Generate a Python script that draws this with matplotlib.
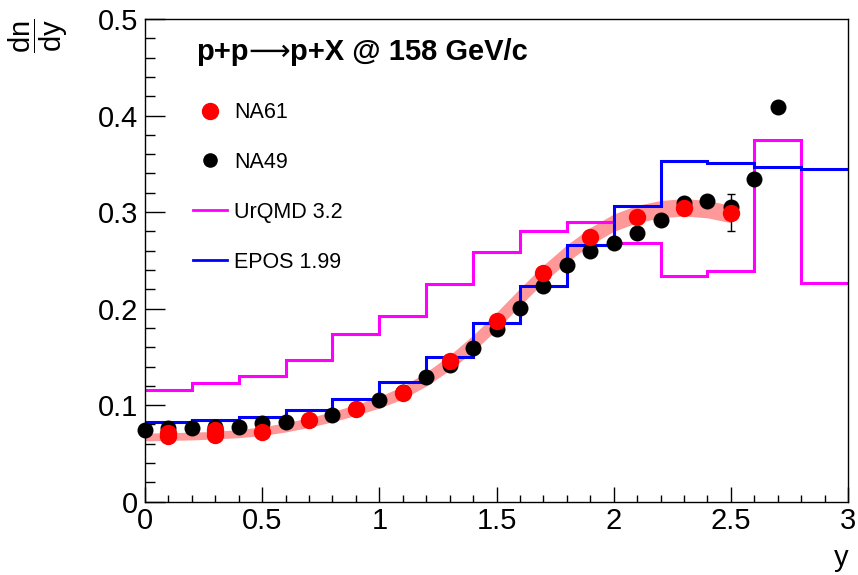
import numpy as np
import matplotlib
matplotlib.use("Agg")
import matplotlib.pyplot as plt
from matplotlib.ticker import MultipleLocator, FuncFormatter
from matplotlib.lines import Line2D
from matplotlib.offsetbox import TextArea, HPacker, AnchoredOffsetbox

plt.rcParams['font.family'] = ['Liberation Sans', 'DejaVu Sans']
plt.rcParams['mathtext.fontset'] = 'custom'
plt.rcParams['mathtext.rm'] = 'Liberation Sans'
plt.rcParams['mathtext.it'] = 'Liberation Sans'

# model histograms, bins of 0.2 in rapidity
bin_edges = np.linspace(0, 3, 16)
urqmd = [0.1157, 0.1233, 0.1305, 0.1465, 0.1740, 0.1925, 0.2250, 0.2590,
         0.2805, 0.2897, 0.2683, 0.2338, 0.2393, 0.3747, 0.2268]
epos = [0.0826, 0.0843, 0.0880, 0.0946, 0.1064, 0.1243, 0.1500, 0.1848,
        0.2234, 0.2659, 0.3063, 0.3532, 0.3511, 0.3464, 0.3449]

# NA61 data
na61_x = [0.1, 0.3, 0.5, 0.7, 0.9, 1.1, 1.3, 1.5, 1.7, 1.9, 2.1, 2.3, 2.5]
na61_y = [0.0683, 0.0693, 0.0725, 0.0846, 0.0957, 0.1126, 0.1457, 0.1875,
          0.2372, 0.2745, 0.2952, 0.3039, 0.2994]
na61_err = [0, 0, 0, 0, 0, 0, 0, 0, 0, 0, 0, 0, 0.019]
na61b_x = [0.1, 0.3]
na61b_y = [0.0714, 0.0741]

# NA49 data
na49_x = [0.0, 0.1, 0.2, 0.3, 0.4, 0.5, 0.6, 0.7, 0.8, 0.9, 1.0, 1.1, 1.2, 1.3,
          1.4, 1.5, 1.6, 1.7, 1.8, 1.9, 2.0, 2.1, 2.2, 2.3, 2.4, 2.5, 2.6, 2.7]
na49_y = [0.0743, 0.0760, 0.0760, 0.0778, 0.0778, 0.0815, 0.0830, 0.0850,
          0.0899, 0.0960, 0.1053, 0.1140, 0.1290, 0.1416, 0.1595, 0.1785,
          0.2006, 0.2234, 0.2457, 0.2600, 0.2683, 0.2780, 0.2918, 0.3090,
          0.3118, 0.3056, 0.3339, 0.4092]

# NA61 fit band
band_x = [0.0, 0.1, 0.2, 0.3, 0.4, 0.5, 0.6, 0.7, 0.8, 0.9, 1.0, 1.1, 1.2,
          1.3, 1.4, 1.5, 1.6, 1.7, 1.8, 1.9, 2.0, 2.1, 2.2, 2.3, 2.4, 2.5]
band_y = [0.067, 0.0675, 0.068, 0.069, 0.0705, 0.073, 0.077, 0.082, 0.088,
          0.095, 0.103, 0.113, 0.127, 0.144, 0.164, 0.187, 0.212, 0.236,
          0.257, 0.275, 0.289, 0.298, 0.303, 0.305, 0.303, 0.298]
band_w = [0.004, 0.004, 0.004, 0.004, 0.0042, 0.0045, 0.0048, 0.005, 0.0053,
          0.0056, 0.006, 0.0066, 0.0072, 0.0078, 0.0084, 0.009, 0.009, 0.009,
          0.009, 0.009, 0.009, 0.009, 0.009, 0.009, 0.009, 0.009]

fig = plt.figure(figsize=(8.58, 5.75), dpi=100)
ax = fig.add_axes([145 / 858, 1 - 501.7 / 575, (848 - 145) / 858, (501.7 - 19) / 575])

lo = np.array(band_y) - np.array(band_w)
hi = np.array(band_y) + np.array(band_w)
ax.fill_between(band_x, lo, hi, color='#ff9999', lw=0, zorder=1)

ax.stairs(urqmd, bin_edges, color='#ff00ff', lw=2.2, zorder=2, baseline=None)
ax.stairs(epos, bin_edges, color='#0000ff', lw=2.2, zorder=2, baseline=None)

ax.plot(na49_x, na49_y, 'o', color='black', ms=11.5, mew=0, zorder=3, clip_on=False)
ax.errorbar(na61_x, na61_y, yerr=na61_err, fmt='none', ecolor='black',
            elinewidth=1, capsize=3, zorder=3.5)
ax.plot(na61b_x, na61b_y, 'o', color='red', ms=12.5, mew=0, zorder=4)
ax.plot(na61_x, na61_y, 'o', color='red', ms=12.5, mew=0, zorder=4)

ax.set_xlim(0, 3)
ax.set_ylim(0, 0.5)
ax.xaxis.set_major_locator(MultipleLocator(0.5))
ax.xaxis.set_minor_locator(MultipleLocator(0.1))
ax.yaxis.set_major_locator(MultipleLocator(0.1))
ax.yaxis.set_minor_locator(MultipleLocator(0.02))
fmt = FuncFormatter(lambda v, p: '%g' % round(v, 3))
ax.xaxis.set_major_formatter(fmt)
ax.yaxis.set_major_formatter(fmt)
ax.tick_params(which='both', direction='in', top=False, right=False,
               labelsize=21, width=1)
ax.tick_params(axis='x', which='major', length=10.8, pad=4)
ax.tick_params(axis='x', which='minor', length=5)
ax.tick_params(axis='y', which='major', length=14.4, pad=5)
ax.tick_params(axis='y', which='minor', length=7.2)
for s in ax.spines.values():
    s.set_linewidth(1)

fig.text(848 / 858, 1 - 558 / 575, 'y', fontsize=21, ha='right', va='center')
fig.text(38 / 858, 1 - 36 / 575, r'$\dfrac{\mathrm{dn}}{\mathrm{dy}}$',
         fontsize=21, rotation=90, ha='center', va='center')

# title: bold text with a thin long arrow in the middle
bold = dict(fontsize=21, fontweight='bold', family=['Liberation Sans', 'DejaVu Sans'])
title = HPacker(children=[
    TextArea('p+p', textprops=bold),
    TextArea('\u27f6', textprops=dict(fontsize=21, family=['DejaVu Sans'])),
    TextArea('p+X @ 158 GeV/c', textprops=bold),
], align='baseline', pad=0, sep=0)
fig.add_artist(AnchoredOffsetbox(loc='lower left', child=title, pad=0, borderpad=0,
                                 frameon=False, bbox_to_anchor=(196 / 858, 1 - 66 / 575),
                                 bbox_transform=fig.transFigure))

handles = [
    Line2D([], [], ls='none', marker='o', color='red', ms=12.5, mew=0),
    Line2D([], [], ls='none', marker='o', color='black', ms=10.5, mew=0),
    Line2D([], [], color='#ff00ff', lw=2),
    Line2D([], [], color='#0000ff', lw=2),
]
labels = ['NA61', 'NA49', 'UrQMD 3.2', 'EPOS 1.99']
ax.legend(handles, labels, loc='center left', bbox_to_anchor=(193 / 858, 1 - 187.5 / 575),
          bbox_transform=fig.transFigure, frameon=False, fontsize=15.5,
          handlelength=1.58, handletextpad=0.33, labelspacing=1.345,
          borderpad=0, borderaxespad=0)

fig.savefig('out.png', dpi=100)
